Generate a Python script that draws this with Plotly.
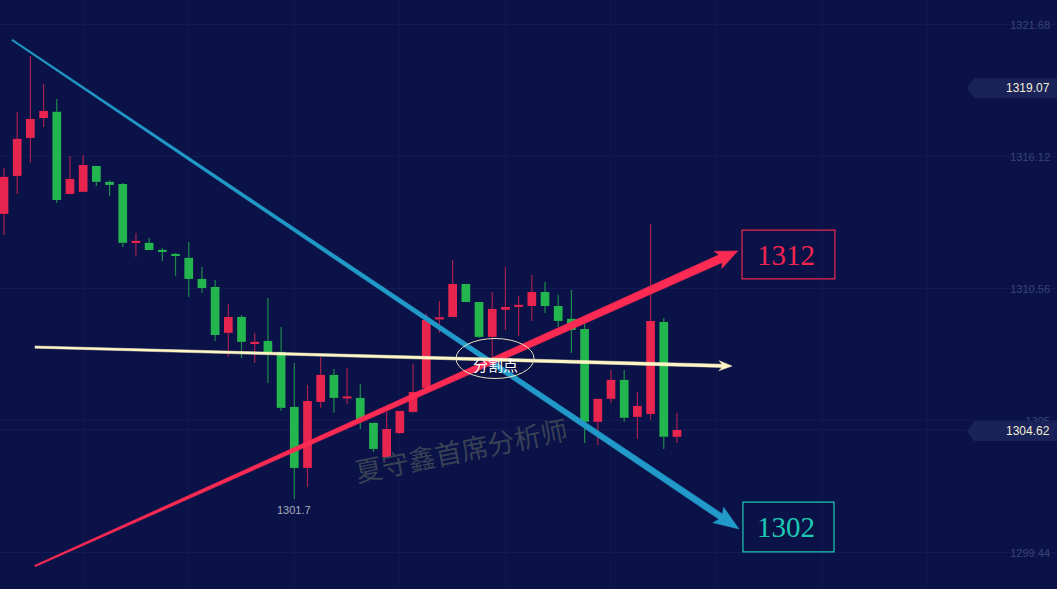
import math
import plotly.graph_objects as go

# ---------------- data ----------------
opens = [1313.72, 1315.32, 1316.92, 1317.76, 1318.02, 1314.56, 1314.65, 1315.74, 1315.07, 1314.98,
         1312.50, 1312.50, 1312.20, 1312.03, 1311.87, 1310.98, 1310.64, 1308.71, 1309.38, 1308.24,
         1308.37, 1307.91, 1305.59, 1303.02, 1305.80, 1306.94, 1305.97, 1305.97, 1304.92, 1303.48,
         1304.49, 1305.38, 1306.39, 1309.30, 1309.38, 1310.77, 1310.01, 1308.54, 1309.68, 1309.80,
         1309.84, 1310.43, 1309.84, 1309.30, 1308.87, 1304.96, 1305.93, 1306.73, 1305.17, 1305.29,
         1309.17, 1304.33]
highs = [1315.66, 1318.02, 1320.37, 1319.19, 1318.56, 1316.16, 1316.20, 1315.74, 1315.15, 1315.02,
         1312.92, 1312.71, 1312.29, 1312.08, 1312.54, 1311.48, 1310.94, 1309.93, 1309.46, 1308.71,
         1310.18, 1308.96, 1307.44, 1306.52, 1307.69, 1307.19, 1307.23, 1306.56, 1304.92, 1305.38,
         1305.42, 1307.40, 1309.51, 1310.05, 1311.78, 1310.77, 1310.01, 1310.43, 1311.48, 1310.26,
         1311.15, 1310.85, 1310.31, 1310.52, 1309.13, 1305.93, 1307.15, 1307.15, 1306.22, 1313.30,
         1309.34, 1305.34]
lows = [1312.83, 1314.56, 1315.87, 1317.38, 1314.18, 1314.56, 1314.65, 1314.90, 1314.48, 1312.33,
        1311.91, 1312.20, 1311.74, 1311.11, 1310.22, 1310.39, 1308.37, 1307.69, 1307.65, 1307.44,
        1306.60, 1305.42, 1301.71, 1302.22, 1305.55, 1305.34, 1305.71, 1304.66, 1303.69, 1303.48,
        1304.45, 1305.34, 1306.39, 1308.71, 1309.38, 1310.01, 1308.50, 1307.69, 1308.83, 1308.58,
        1309.21, 1309.55, 1308.96, 1307.86, 1304.07, 1303.99, 1305.76, 1304.96, 1304.24, 1305.04,
        1303.82, 1304.07]
closes = [1315.28, 1316.88, 1317.72, 1318.06, 1314.31, 1315.19, 1315.78, 1315.07, 1314.94, 1312.50,
          1312.58, 1312.20, 1312.12, 1311.95, 1310.98, 1310.60, 1308.62, 1309.38, 1308.33, 1308.33,
          1307.86, 1305.55, 1303.02, 1305.84, 1306.94, 1305.97, 1306.01, 1305.08, 1303.82, 1304.66,
          1305.42, 1306.22, 1309.25, 1309.34, 1310.77, 1310.01, 1308.54, 1309.72, 1309.80, 1309.89,
          1310.43, 1309.84, 1309.21, 1308.83, 1304.96, 1305.93, 1306.73, 1305.13, 1305.63, 1309.21,
          1304.33, 1304.62]
idx = list(range(len(opens)))

tick_vals = [1299.44, 1305.00, 1310.56, 1316.12, 1321.68]
tick_text = ["1299.44", "1305", "1310.56", "1316.12", "1321.68"]
last_price = 1304.62
tag_price = 1319.07
low_index = 22
low_text = "1301.7"
target_up = "1312"
target_down = "1302"
pivot_text = "分割点"
watermark = "夏守鑫首席分析师"

# analyst trend lines: (candle index, price)
down_line = [(0.61, 1321.05), (55.70, 1300.45)]
up_line = [(2.35, 1298.89), (55.62, 1312.16)]
flat_line = [(2.35, 1308.11), (55.17, 1307.31)]

# ---------------- geometry helpers ----------------
W, H = 1057, 589
XR = [-0.303, 79.80]
YR = [1297.92, 1322.73]


def to_px(i, p):
    return ((i - XR[0]) / (XR[1] - XR[0]) * W, (YR[1] - p) / (YR[1] - YR[0]) * H)


def to_data(x, y):
    return (XR[0] + x / W * (XR[1] - XR[0]), YR[1] - y / H * (YR[1] - YR[0]))


def arrow_poly(p0, p1, w0, w1, head_len, head_half):
    sx, sy = to_px(*p0)
    tx, ty = to_px(*p1)
    dx, dy = tx - sx, ty - sy
    L = math.hypot(dx, dy)
    ux, uy = dx / L, dy / L
    nx, ny = -uy, ux
    ex, ey = tx - ux * head_len, ty - uy * head_len
    pts = [
        (sx + nx * w0 / 2, sy + ny * w0 / 2),
        (ex + nx * w1 / 2, ey + ny * w1 / 2),
        (ex - ux * 3 + nx * head_half, ey - uy * 3 + ny * head_half),
        (tx, ty),
        (ex - ux * 3 - nx * head_half, ey - uy * 3 - ny * head_half),
        (ex - nx * w1 / 2, ey - ny * w1 / 2),
        (sx - nx * w0 / 2, sy - ny * w0 / 2),
        (sx + nx * w0 / 2, sy + ny * w0 / 2),
    ]
    d = [to_data(x, y) for x, y in pts]
    return [a for a, b in d], [b for a, b in d]


BG = "#0a1247"
RED = "#e8254f"
GREEN = "#23b54e"
RED_WICK = "#a8204c"
GREEN_WICK = "#1e8a4a"

fig = go.Figure()

# wicks
for color, wcol, cond in [(RED, RED_WICK, True), (GREEN, GREEN_WICK, False)]:
    xs, ys = [], []
    for i in idx:
        up = closes[i] >= opens[i]
        if up != cond:
            continue
        top = max(opens[i], closes[i])
        bot = min(opens[i], closes[i])
        if highs[i] > top:
            xs += [i, i, None]
            ys += [top, highs[i], None]
        if lows[i] < bot:
            xs += [i, i, None]
            ys += [bot, lows[i], None]
    fig.add_trace(go.Scatter(x=xs, y=ys, mode="lines", line=dict(color=wcol, width=1.2),
                             hoverinfo="skip", showlegend=False))

# bodies
for color, cond in [(RED, True), (GREEN, False)]:
    bx, base, hgt = [], [], []
    for i in idx:
        up = closes[i] >= opens[i]
        if up != cond:
            continue
        bot = min(opens[i], closes[i])
        h = abs(closes[i] - opens[i])
        if h < 0.09:
            bot = (opens[i] + closes[i]) / 2 - 0.045
            h = 0.09
        bx.append(i)
        base.append(bot)
        hgt.append(h)
    fig.add_trace(go.Bar(x=bx, y=hgt, base=base, width=0.66, marker=dict(color=color, line=dict(width=0)),
                         hoverinfo="skip", showlegend=False))

# trend arrows
for pts, w0, w1, hl, hh, col in [
    (down_line, 1.5, 6.5, 22, 9.5, "#229ac9"),
    (up_line, 1.5, 8.5, 19, 9.5, "#fd2a54"),
    (flat_line, 2.2, 3.2, 10, 5, "#fff6c6"),
]:
    px_, py_ = arrow_poly(pts[0], pts[1], w0, w1, hl, hh)
    fig.add_trace(go.Scatter(x=px_, y=py_, mode="lines", fill="toself", fillcolor=col,
                             line=dict(width=0.5, color=col), hoverinfo="skip", showlegend=False))

# ---------------- shapes ----------------
shapes = []
# last price line
shapes.append(dict(type="line", xref="paper", yref="y", x0=0, x1=1, y0=last_price, y1=last_price,
                   line=dict(color="#151e58", width=1), layer="below"))


def tag_path(price):
    c = price - 1.2 / H * (YR[1] - YR[0])
    ph = 9.8 / H * (YR[1] - YR[0])
    xa = 967 / W
    xb = 974 / W
    return (f"M {xa} {c} L {xb} {c + ph} L 1 {c + ph} L 1 {c - ph} "
            f"L {xb} {c - ph} Z")


for pr in [tag_price, last_price]:
    shapes.append(dict(type="path", xref="paper", yref="y", path=tag_path(pr),
                       fillcolor="#1a225a", line=dict(width=0), layer="above"))

# pivot ellipse
cx, cy = to_px(37.21, 1307.63)
ex0, ey0 = to_data(cx - 39, cy - 20)
ex1, ey1 = to_data(cx + 39, cy + 20)
shapes.append(dict(type="circle", xref="x", yref="y", x0=ex0, x1=ex1, y0=ey1, y1=ey0,
                   line=dict(color="#e8e2c0", width=1)))

# target boxes
shapes.append(dict(type="rect", xref="x", yref="y", x0=55.93, x1=62.97, y0=1310.98, y1=1313.04,
                   line=dict(color="#f0264f", width=1.2)))
shapes.append(dict(type="rect", xref="x", yref="y", x0=56.0, x1=62.9, y0=1299.48, y1=1301.58,
                   line=dict(color="#1cc9b4", width=1.2)))

# ---------------- annotations ----------------
ann = []
ann.append(dict(x=59.26, y=1312.0, xref="x", yref="y", text=target_up, showarrow=False,
                font=dict(family="Liberation Serif", size=29, color="#f0264f")))
ann.append(dict(x=59.26, y=1300.53, xref="x", yref="y", text=target_down, showarrow=False,
                font=dict(family="Liberation Serif", size=29, color="#1cc9b4")))
ann.append(dict(x=37.28, y=1307.36, xref="x", yref="y", text=pivot_text, showarrow=False,
                font=dict(family="Noto Sans CJK SC", size=15, color="#ffffff")))
ann.append(dict(x=low_index, y=lows[low_index], xref="x", yref="y", text=low_text, showarrow=False,
                yanchor="top", yshift=-3, font=dict(family="Liberation Sans", size=11, color="#a9afbf")))
for pr in [tag_price, last_price]:
    ann.append(dict(x=1052 / W, y=pr, xref="paper", yref="y", text=f"{pr:.2f}", showarrow=False,
                    xanchor="right", yshift=-1,
                    font=dict(family="Liberation Sans", size=12, color="#f2eed4")))
wx, wy = to_data(461, 449)
ann.append(dict(x=wx, y=wy, xref="x", yref="y", text=watermark, showarrow=False, textangle=-11.5,
                font=dict(family="Noto Sans CJK SC", size=27, color="rgba(66,74,88,0.85)")))

fig.update_layout(
    width=W, height=H,
    margin=dict(l=0, r=0, t=0, b=0),
    paper_bgcolor=BG, plot_bgcolor=BG,
    barmode="overlay",
    showlegend=False,
    shapes=shapes,
    annotations=ann,
    xaxis=dict(range=XR, showticklabels=False, ticks="", zeroline=False, showline=False,
               tickvals=[6, 14, 22, 30, 38, 46, 54, 62, 70, 78], showgrid=True,
               gridcolor="#0f174f", gridwidth=1),
    yaxis=dict(range=YR, side="right", tickvals=tick_vals, ticktext=tick_text,
               ticklabelposition="inside", ticks="", ticklabelstandoff=4,
               tickfont=dict(family="Liberation Sans", size=11, color="#3a4576"),
               showgrid=True, gridcolor="#111a53", gridwidth=1, zeroline=False, showline=False),
)

fig.write_html("out.html", config={"displayModeBar": False},
               post_script="document.body.style.margin='0';document.body.style.padding='0';"
                           "document.body.style.background='" + BG + "';")
